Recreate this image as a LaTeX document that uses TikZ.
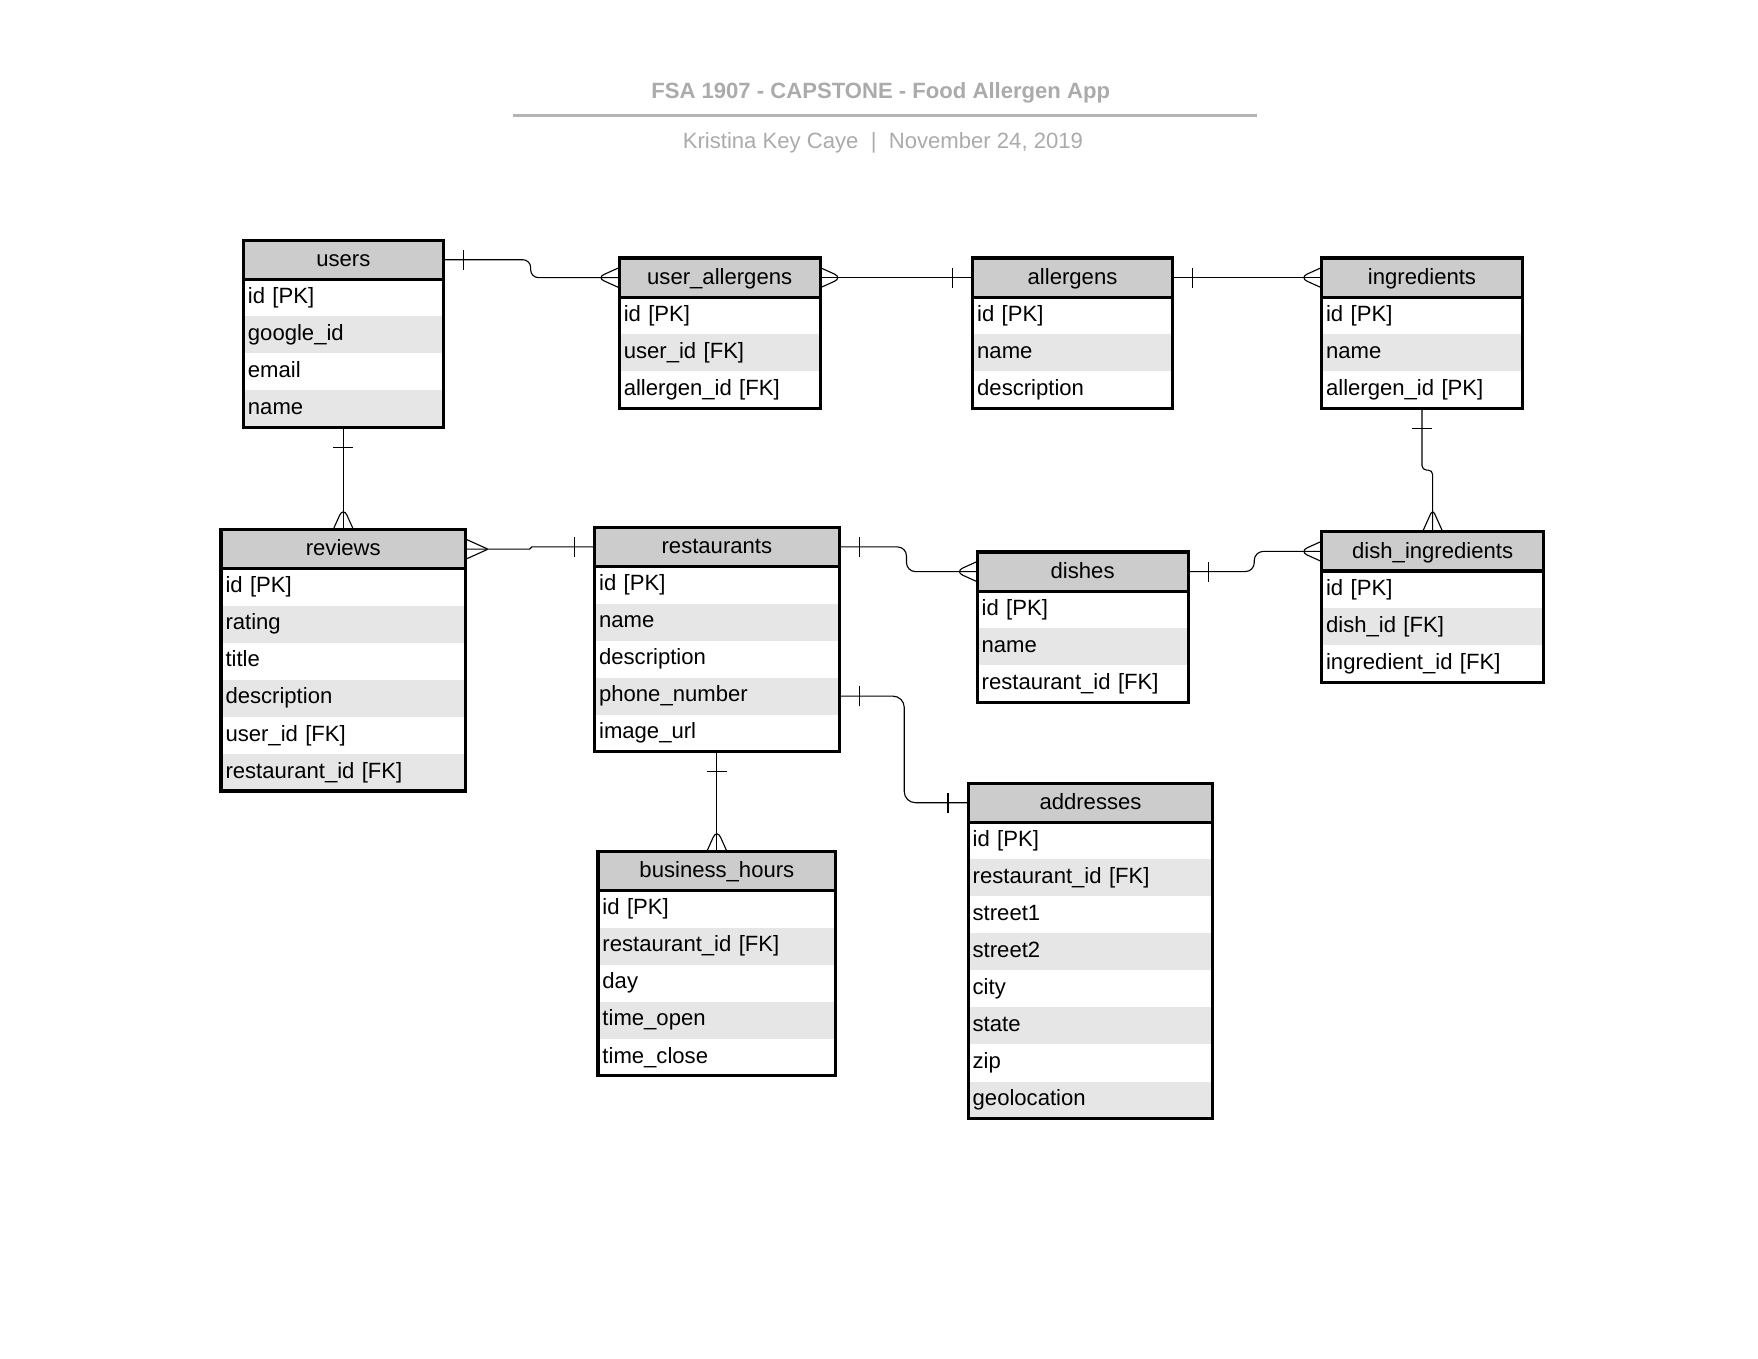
\documentclass[tikz,border=0pt]{standalone}
\usepackage{fontspec}
\setmainfont{Liberation Sans}
\usetikzlibrary{arrows,positioning}
\usetikzlibrary{calc}
\usetikzlibrary{decorations.markings}

\definecolor{headgray}{HTML}{CCCCCC}
\definecolor{rowgray}{HTML}{E6E6E6}
\definecolor{titlegray}{HTML}{ABABAB}

\tikzset{
  tblhead/.style={fill=headgray, minimum width=#1, minimum height=35pt, inner sep=0pt, outer sep=0pt,
    anchor=north west, font=\fontsize{19.7}{24}\selectfont, text height=17pt, text depth=5pt},
  rowa/.style={fill=white, text width=#1, align=left, minimum height=33pt, inner xsep=4pt, inner ysep=0pt,
    outer sep=0pt, font=\fontsize{19.7}{24}\selectfont, text height=15pt, text depth=5pt},
  rowb/.style={rowa=#1, fill=rowgray},
  tblframe/.style={line width=2.8pt},
  rel/.style={line width=1pt, rounded corners=#1},
  rel/.default=8pt,
  bar start/.style={postaction={decorate, decoration={markings,
    mark=at position 18pt with {\draw[line width=1pt] (0pt,-9pt) -- (0pt,9pt);}}}},
  bar end/.style={postaction={decorate, decoration={markings,
    mark=at position -18pt with {\draw[line width=1pt] (0pt,-9pt) -- (0pt,9pt);}}}},
  crow start/.style={postaction={decorate, decoration={markings,
    mark=at position 20pt with {\draw[line width=1pt] (-20pt,9pt) -- (0pt,0pt) -- (-20pt,-9pt);}}}},
  crow end/.style={postaction={decorate, decoration={markings,
    mark=at position -20pt with {\draw[line width=1pt] (20pt,9pt) -- (0pt,0pt) -- (20pt,-9pt);}}}},
}

\begin{document}
\begin{tikzpicture}[x=1pt,y=-1pt]
\path[fill=white,use as bounding box] (0,0) rectangle (1567,1210.5);

% title block
\node[text=titlegray, font=\fontsize{19.7}{24}\selectfont\bfseries] (title) at (785,82.5) {FSA 1907 - CAPSTONE - Food Allergen App};
\draw[titlegray!90, line width=2.6pt] (457,103) -- (1120,103);
\node[text=titlegray, font=\fontsize{19.7}{24}\selectfont] (byline) at (787,127.5) {Kristina Key Caye\hspace{11pt}|\hspace{11pt}November 24, 2019};

% users
\node[tblhead=178pt] (users) at (217,214) {users};
\node[rowa=170pt, below=0pt of users] (users1) {id [PK]};
\node[rowb=170pt, below=0pt of users1] (users2) {google\_id};
\node[rowa=170pt, below=0pt of users2] (users3) {email};
\node[rowb=170pt, below=0pt of users3] (users4) {name};
\draw[tblframe] (users.north west) rectangle (users4.south east);
\draw[tblframe] (users.south west) -- (users.south east);

% user_allergens
\node[tblhead=179pt] (uall) at (552,230) {user\_allergens};
\node[rowa=171pt, below=0pt of uall] (uall1) {id [PK]};
\node[rowb=171pt, below=0pt of uall1] (uall2) {user\_id [FK]};
\node[rowa=171pt, below=0pt of uall2] (uall3) {allergen\_id [FK]};
\draw[tblframe] (uall.north west) rectangle (uall3.south east);
\draw[tblframe] (uall.south west) -- (uall.south east);

% allergens
\node[tblhead=178pt] (allerg) at (867,230) {allergens};
\node[rowa=170pt, below=0pt of allerg] (allerg1) {id [PK]};
\node[rowb=170pt, below=0pt of allerg1] (allerg2) {name};
\node[rowa=170pt, below=0pt of allerg2] (allerg3) {description};
\draw[tblframe] (allerg.north west) rectangle (allerg3.south east);
\draw[tblframe] (allerg.south west) -- (allerg.south east);

% ingredients
\node[tblhead=179pt] (ingr) at (1178,230) {ingredients};
\node[rowa=171pt, below=0pt of ingr] (ingr1) {id [PK]};
\node[rowb=171pt, below=0pt of ingr1] (ingr2) {name};
\node[rowa=171pt, below=0pt of ingr2] (ingr3) {allergen\_id [PK]};
\draw[tblframe] (ingr.north west) rectangle (ingr3.south east);
\draw[tblframe] (ingr.south west) -- (ingr.south east);

% reviews
\node[tblhead=218pt] (rev) at (197,472) {reviews};
\node[rowa=210pt, below=0pt of rev] (rev1) {id [PK]};
\node[rowb=210pt, below=0pt of rev1] (rev2) {rating};
\node[rowa=210pt, below=0pt of rev2] (rev3) {title};
\node[rowb=210pt, below=0pt of rev3] (rev4) {description};
\node[rowa=210pt, below=0pt of rev4] (rev5) {user\_id [FK]};
\node[rowb=210pt, below=0pt of rev5] (rev6) {restaurant\_id [FK]};
\draw[tblframe] (rev.north west) rectangle (rev6.south east);
\draw[tblframe] (rev.south west) -- (rev.south east);

% restaurants
\node[tblhead=218pt] (rest) at (530,470) {restaurants};
\node[rowa=210pt, below=0pt of rest] (rest1) {id [PK]};
\node[rowb=210pt, below=0pt of rest1] (rest2) {name};
\node[rowa=210pt, below=0pt of rest2] (rest3) {description};
\node[rowb=210pt, below=0pt of rest3] (rest4) {phone\_number};
\node[rowa=210pt, below=0pt of rest4] (rest5) {image\_url};
\draw[tblframe] (rest.north west) rectangle (rest5.south east);
\draw[tblframe] (rest.south west) -- (rest.south east);

% dishes
\node[tblhead=188pt] (dish) at (871,492) {dishes};
\node[rowa=180pt, below=0pt of dish] (dish1) {id [PK]};
\node[rowb=180pt, below=0pt of dish1] (dish2) {name};
\node[rowa=180pt, below=0pt of dish2] (dish3) {restaurant\_id [FK]};
\draw[tblframe] (dish.north west) rectangle (dish3.south east);
\draw[tblframe] (dish.south west) -- (dish.south east);

% dish_ingredients
\node[tblhead=198pt] (dishing) at (1178,474) {dish\_ingredients};
\node[rowa=190pt, below=0pt of dishing] (dishing1) {id [PK]};
\node[rowb=190pt, below=0pt of dishing1] (dishing2) {dish\_id [FK]};
\node[rowa=190pt, below=0pt of dishing2] (dishing3) {ingredient\_id [FK]};
\draw[tblframe] (dishing.north west) rectangle (dishing3.south east);
\draw[tblframe] (dishing.south west) -- (dishing.south east);

% business_hours
\node[tblhead=212pt] (bh) at (533,759) {business\_hours};
\node[rowa=204pt, below=0pt of bh] (bh1) {id [PK]};
\node[rowb=204pt, below=0pt of bh1] (bh2) {restaurant\_id [FK]};
\node[rowa=204pt, below=0pt of bh2] (bh3) {day};
\node[rowb=204pt, below=0pt of bh3] (bh4) {time\_open};
\node[rowa=204pt, below=0pt of bh4] (bh5) {time\_close};
\draw[tblframe] (bh.north west) rectangle (bh5.south east);
\draw[tblframe] (bh.south west) -- (bh.south east);

% addresses
\node[tblhead=218pt] (addr) at (863,698) {addresses};
\node[rowa=210pt, below=0pt of addr] (addr1) {id [PK]};
\node[rowb=210pt, below=0pt of addr1] (addr2) {restaurant\_id [FK]};
\node[rowa=210pt, below=0pt of addr2] (addr3) {street1};
\node[rowb=210pt, below=0pt of addr3] (addr4) {street2};
\node[rowa=210pt, below=0pt of addr4] (addr5) {city};
\node[rowb=210pt, below=0pt of addr5] (addr6) {state};
\node[rowa=210pt, below=0pt of addr6] (addr7) {zip};
\node[rowb=210pt, below=0pt of addr7] (addr8) {geolocation};
\draw[tblframe] (addr.north west) rectangle (addr8.south east);
\draw[tblframe] (addr.south west) -- (addr.south east);

% relations
\draw[rel=7pt, bar start, crow end] (users.east) -- ++(78,0) |- (uall.west);
\draw[rel, crow start, bar end] (uall.east) -- (allerg.west);
\draw[rel, bar start, crow end] (allerg.east) -- (ingr.west);
\draw[rel, bar start, crow end] (users4.south) -- (rev.north);
\draw[rel=1pt, crow start, bar end] (rev.east) -- ++(58,0) |- (rest.west);
\draw[rel, bar start, crow end] (rest.east) -- ++(60,0) |- (dish.west);
\draw[rel, bar start, crow end] (dish.east) -- ++(59,0) |- (dishing.west);
\draw[rel=4pt, bar start, crow end] (ingr3.south) -- ++(0,55) -| (dishing.north);
\draw[rel, bar start, crow end] (rest5.south) -- (bh.north);
\draw[rel=10pt, bar start, bar end] (rest4.east) -- ++(58,0) |- (addr.west);
\end{tikzpicture}
\end{document}
